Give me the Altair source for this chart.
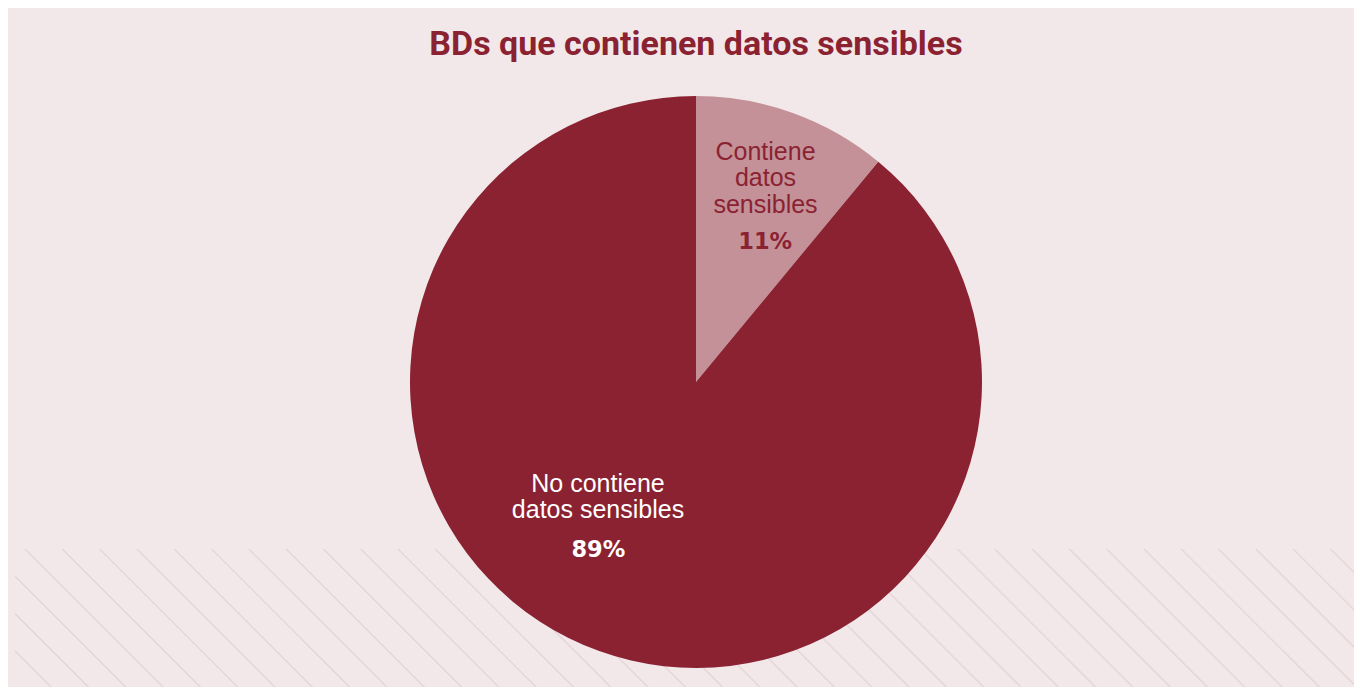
import altair as alt
import pandas as pd

# ---- data ----
categorias = ["Contiene datos sensibles", "No contiene datos sensibles"]
etiquetas = ["Contiene\ndatos\nsensibles", "No contiene\ndatos sensibles"]
porcentajes = [11, 89]
orden = [0, 1]

df = pd.DataFrame({
    "categoria": categorias,
    "etiqueta": etiquetas,
    "pct": porcentajes,
    "orden": orden,
})

DARK = "#8b2232"
LIGHT = "#c49198"
BG = "#f2e8e9"
HATCH = "#e6d6d9"

W, H = 1316, 610
PAD_L, PAD_T = 30, 69
R = 286
OX, OY = 8 + PAD_L, 8 + PAD_T  # page position of the view origin

base = alt.Chart(df).transform_calculate(
    pct_label="datum.pct + '%'"
).encode(
    theta=alt.Theta("pct:Q", stack=True),
    order=alt.Order("orden:Q"),
)

pie = base.mark_arc(outerRadius=R, strokeWidth=0).encode(
    color=alt.Color("categoria:N",
                    scale=alt.Scale(domain=categorias, range=[LIGHT, DARK]),
                    legend=None)
)

small = alt.datum.orden == 0
big = alt.datum.orden == 1

lab_small = base.mark_text(
    radius=217, dx=-4, dy=-26, font="Liberation Sans", fontSize=25, lineHeight=26.5,
    lineBreak="\n", color=DARK, align="center", baseline="middle"
).encode(text=alt.condition(small, "etiqueta:N", alt.value("")))

pct_small = base.mark_text(
    radius=151, dx=18, dy=2, font="DejaVu Sans", fontWeight="bold", fontSize=22.5,
    color=DARK, align="center", baseline="middle"
).encode(text=alt.condition(small, "pct_label:N", alt.value("")))

lab_big = base.mark_text(
    radius=121, dx=-57, dy=-12, font="Liberation Sans", fontSize=25, lineHeight=26.5,
    lineBreak="\n", color="white", align="center", baseline="middle"
).encode(text=alt.condition(big, "etiqueta:N", alt.value("")))

pct_big = base.mark_text(
    radius=176, dx=-38, dy=2, font="DejaVu Sans", fontWeight="bold", fontSize=22.5,
    color="white", align="center", baseline="middle"
).encode(text=alt.condition(big, "pct_label:N", alt.value("")))

# decorative diagonal hatching in the lower part of the panel
hatch = alt.Chart(alt.sequence(-6, 38, as_="k")).transform_calculate(
    c="-524 + 37.3 * datum.k"
).transform_calculate(
    x1p="max(datum.c + 549, 15)"
).transform_calculate(
    x1=f"datum.x1p - {OX}",
    y1=f"datum.x1p - datum.c - {OY}",
    x2=f"datum.c + 720 - {OX}",
    y2=f"720 - {OY}",
).mark_rule(color=HATCH, strokeWidth=1.5, clip=False).encode(
    x=alt.X("x1:Q", scale=None, axis=None),
    y=alt.Y("y1:Q", scale=None, axis=None),
    x2="x2:Q",
    y2="y2:Q",
)

chart = alt.layer(hatch, pie, lab_small, pct_small, lab_big, pct_big).properties(
    width=W,
    height=H,
    autosize=alt.AutoSizeParams(type="none"),
    padding={"left": PAD_L, "top": PAD_T, "right": 0, "bottom": 0},
    background=BG,
    title=alt.Title(
        "BDs que contienen datos sensibles",
        font="Roboto", fontWeight="bold", fontSize=34, color=DARK,
        anchor="middle", frame="group", baseline="alphabetic", offset=-12,
    ),
).configure_view(stroke=None)

chart.save("out.html", embed_options={"renderer": "svg", "actions": False})
